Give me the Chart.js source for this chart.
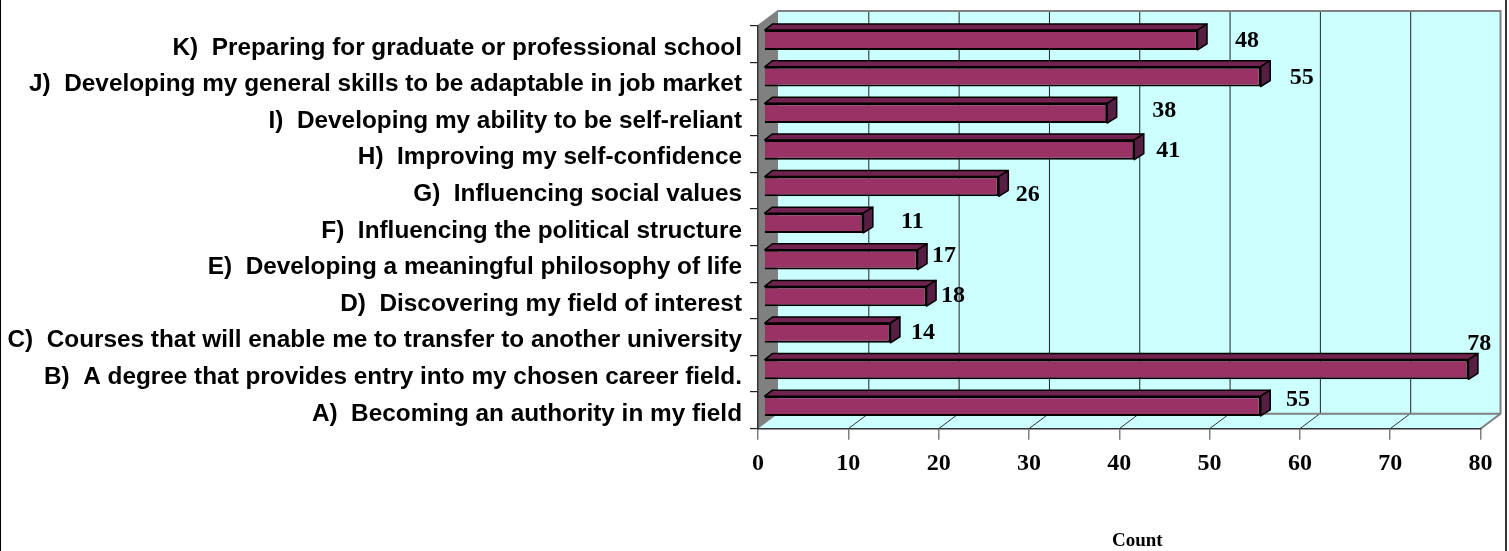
<!DOCTYPE html>
<html>
<head>
<meta charset="utf-8">
<style>html,body{margin:0;padding:0;background:#fff}canvas{display:block}</style>
<script src="https://cdn.jsdelivr.net/npm/chart.js@4"></script>
</head>
<body>
<canvas id="c" width="1509" height="551"></canvas>
<script>
const categories = [
  "K)  Preparing for graduate or professional school",
  "J)  Developing my general skills to be adaptable in job market",
  "I)  Developing my ability to be self-reliant",
  "H)  Improving my self-confidence",
  "G)  Influencing social values",
  "F)  Influencing the political structure",
  "E)  Developing a meaningful philosophy of life",
  "D)  Discovering my field of interest",
  "C)  Courses that will enable me to transfer to another university",
  "B)  A degree that provides entry into my chosen career field.",
  "A)  Becoming an authority in my field"
];
const counts = [48, 55, 38, 41, 26, 11, 17, 18, 14, 78, 55];
const axisTitle = "Count";
const labelNudgeX = [49.6, 41, 57, 34, 29, 49, 26.5, 26.5, 32.6, 10.7, 37.4];
const labelNudgeY = [0, 0, -3, 0, 7, -2, -4.6, -1, -1, -27, -7];

const WALL = {dx: 20, dy: -15};
const BAR_SHIFT = {x: 6, y: -4.3};
const BAR_DEPTH = {dx: 9.5, dy: -6};
const SERIF = '"Liberation Serif"';
const CATEGORY_TEXT_DROP = 3.5;

const scene3d = {
  id: 'scene3d',
  beforeDraw(chart) {
    const {ctx, chartArea: a, scales: {x}} = chart;
    const L = a.left, R = a.right, T = a.top, B = a.bottom;
    const wl = L + WALL.dx, wr = R + WALL.dx, wt = T + WALL.dy, wb = B + WALL.dy;
    ctx.save();
    // page frame
    ctx.fillStyle = '#000'; ctx.fillRect(0, 0, 1, chart.height);
    ctx.fillStyle = '#333'; ctx.fillRect(1505, 0, 2, chart.height);
    // back wall + floor
    ctx.fillStyle = '#CCFFFF';
    ctx.fillRect(wl, wt, wr - wl, wb - wt);
    ctx.beginPath(); ctx.moveTo(L, B); ctx.lineTo(R, B); ctx.lineTo(wr, wb); ctx.lineTo(wl, wb); ctx.closePath(); ctx.fill();
    // side wall
    ctx.fillStyle = '#808080';
    ctx.beginPath(); ctx.moveTo(L, T); ctx.lineTo(wl, wt); ctx.lineTo(wl, wb); ctx.lineTo(L, B); ctx.closePath(); ctx.fill();
    // back wall grid lines and floor diagonals
    ctx.lineWidth = 1;
    x.ticks.forEach(t => {
      const px = x.getPixelForValue(t.value);
      if (t.value > 0 && t.value < 80) {
        ctx.strokeStyle = '#222';
        ctx.beginPath(); ctx.moveTo(px + WALL.dx + .5, wt); ctx.lineTo(px + WALL.dx + .5, wb); ctx.stroke();
        ctx.strokeStyle = '#333';
        ctx.beginPath(); ctx.moveTo(px, B); ctx.lineTo(px + WALL.dx, wb); ctx.stroke();
      }
    });
    // wall outline
    ctx.strokeStyle = '#808080'; ctx.lineWidth = 2;
    ctx.beginPath(); ctx.moveTo(L, T); ctx.lineTo(wl, wt); ctx.lineTo(wr, wt); ctx.lineTo(wr, wb); ctx.lineTo(R, B); ctx.stroke();
    ctx.beginPath(); ctx.moveTo(wl, wb); ctx.lineTo(wr, wb); ctx.stroke();
    ctx.restore();
  },
  beforeDatasetsDraw(chart) {
    const {ctx} = chart;
    const meta = chart.getDatasetMeta(0);
    ctx.save();
    ctx.translate(BAR_SHIFT.x, BAR_SHIFT.y);
    ctx.lineWidth = 1.5; ctx.strokeStyle = '#000'; ctx.lineJoin = 'round';
    meta.data.forEach(bar => {
      const p = bar.getProps(['x', 'y', 'base', 'height'], true);
      const t = p.y - p.height / 2, b = p.y + p.height / 2;
      const d = BAR_DEPTH;
      ctx.fillStyle = '#70234E';
      ctx.beginPath(); ctx.moveTo(p.base, t); ctx.lineTo(p.base + d.dx * .8, t + d.dy); ctx.lineTo(p.x + d.dx, t + d.dy); ctx.lineTo(p.x, t); ctx.closePath(); ctx.fill(); ctx.stroke();
      ctx.fillStyle = '#561E42';
      ctx.beginPath(); ctx.moveTo(p.x, t); ctx.lineTo(p.x + d.dx, t + d.dy); ctx.lineTo(p.x + d.dx, b + d.dy); ctx.lineTo(p.x, b); ctx.closePath(); ctx.fill(); ctx.stroke();
    });
    // the front faces are drawn by the library inside this same offset
  },
  afterDatasetsDraw(chart) {
    const {ctx, scales: {x}} = chart;
    ctx.restore();
    const meta = chart.getDatasetMeta(0);
    ctx.save();
    ctx.fillStyle = '#000';
    ctx.textAlign = 'center'; ctx.textBaseline = 'middle';
    ctx.font = 'bold 24px ' + SERIF;
    meta.data.forEach((bar, i) => {
      const p = bar.getProps(['x', 'y'], true);
      ctx.fillText(String(counts[i]), p.x + BAR_SHIFT.x + labelNudgeX[i], p.y + BAR_SHIFT.y + labelNudgeY[i] + 1);
    });
    ctx.font = 'bold 19px ' + SERIF;
    ctx.fillText(axisTitle, x.getPixelForValue(42), 541);
    ctx.restore();
  }
};

new Chart(document.getElementById('c'), {
  type: 'bar',
  data: {
    labels: categories,
    datasets: [{
      label: axisTitle,
      data: counts,
      backgroundColor: '#993366',
      borderColor: '#000',
      borderWidth: 2,
      categoryPercentage: 1,
      barPercentage: 0.54
    }]
  },
  plugins: [scene3d],
  options: {
    indexAxis: 'y',
    responsive: false,
    animation: false,
    layout: {padding: {left: 0, top: 26, right: 28.5, bottom: 0}},
    plugins: {legend: {display: false}, title: {display: false}, tooltip: {enabled: false}},
    scales: {
      x: {
        min: 0, max: 80,
        afterFit(s) { s.height = 122.3; },
        ticks: {stepSize: 10, color: '#000', padding: 10, maxRotation: 0, font: {family: SERIF, size: 24, weight: 'bold'}},
        grid: {drawOnChartArea: false, drawTicks: true, tickLength: 11, color: '#808080', lineWidth: 1.5},
        border: {display: true, color: '#333', width: 1.5}
      },
      y: {
        afterFit(s) {
          s.width = 758;
          const base = Object.getPrototypeOf(s).getLabelItems;
          s.getLabelItems = function (area) {
            const items = base.call(this, area);
            if (this._droppedItems !== items) {
              items.forEach(it => { it.textOffset += CATEGORY_TEXT_DROP; });
              this._droppedItems = items;
            }
            return items;
          };
        },
        ticks: {autoSkip: false, color: '#000', padding: 8, font: {family: 'Liberation Sans', size: 24.35, weight: 'bold'}},
        grid: {drawOnChartArea: false, drawTicks: true, tickLength: 8, color: '#222', lineWidth: 1.2},
        border: {display: true, color: '#333', width: 1.5}
      }
    }
  }
});
</script>
</body>
</html>
